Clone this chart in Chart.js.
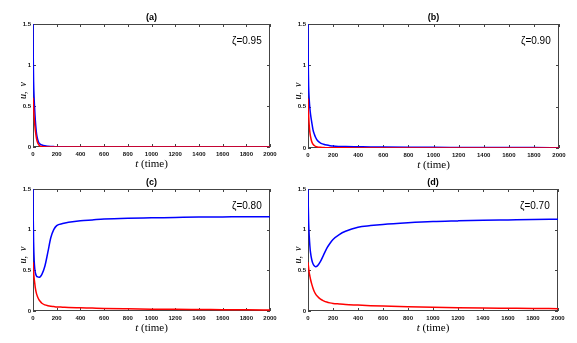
<!DOCTYPE html>
<html>
<head>
<meta charset="utf-8">
<script src="https://cdn.jsdelivr.net/npm/chart.js@4"></script>
<style>
  body { margin: 0; background: #fff; }
  #wrap { position: relative; width: 577px; height: 343px; overflow: hidden; }
  canvas { position: absolute; }
</style>
</head>
<body>
<div id="wrap">
  <canvas id="pa" width="290" height="172" style="left:0;top:0"></canvas>
  <canvas id="pb" width="287" height="172" style="left:290px;top:0"></canvas>
  <canvas id="pc" width="290" height="171" style="left:0;top:172px"></canvas>
  <canvas id="pd" width="287" height="171" style="left:290px;top:172px"></canvas>
</div>
<script>
// time grid shared by all panels
const T = [0, 2, 5, 10, 15, 20, 30, 40, 50, 60, 75, 100, 125, 150, 175, 200, 250, 300, 400, 500, 600, 800, 1000, 1200, 1400, 1600, 1800, 2000];

// (a) zeta = 0.95
const uA = [1.5, 1.1, 0.8, 0.58, 0.44, 0.32, 0.16, 0.09, 0.05, 0.035, 0.025, 0.015, 0.01, 0.007, 0.005, 0.003, 0.002, 0.001, 0, 0, 0, 0, 0, 0, 0, 0, 0, 0];
const vA = [0.6, 0.55, 0.47, 0.36, 0.27, 0.2, 0.1, 0.05, 0.025, 0.012, 0.005, 0.002, 0, 0, 0, 0, 0, 0, 0, 0, 0, 0, 0, 0, 0, 0, 0, 0];

// (b) zeta = 0.90
const uB = [1.5, 1.05, 0.75, 0.58, 0.48, 0.41, 0.31, 0.22, 0.17, 0.13, 0.09, 0.06, 0.045, 0.035, 0.028, 0.023, 0.019, 0.017, 0.015, 0.013, 0.012, 0.01, 0.008, 0.007, 0.006, 0.005, 0.005, 0.004];
const vB = [0.6, 0.5, 0.4, 0.27, 0.19, 0.14, 0.075, 0.045, 0.03, 0.02, 0.013, 0.008, 0.005, 0.004, 0.003, 0.003, 0.002, 0.002, 0.001, 0, 0, 0, 0, 0, 0, 0, 0, 0];

// (c) zeta = 0.80
const uC = [1.5, 1.15, 0.85, 0.62, 0.52, 0.47, 0.43, 0.42, 0.415, 0.42, 0.45, 0.55, 0.72, 0.9, 1.0, 1.05, 1.075, 1.09, 1.11, 1.12, 1.13, 1.14, 1.145, 1.15, 1.155, 1.157, 1.16, 1.16];
const vC = [0.6, 0.55, 0.48, 0.4, 0.34, 0.28, 0.21, 0.17, 0.14, 0.12, 0.095, 0.075, 0.065, 0.058, 0.054, 0.05, 0.047, 0.044, 0.04, 0.036, 0.032, 0.027, 0.023, 0.02, 0.018, 0.016, 0.014, 0.013];

// (d) zeta = 0.70
const uD = [1.5, 1.3, 1.1, 0.92, 0.8, 0.72, 0.63, 0.58, 0.555, 0.545, 0.555, 0.61, 0.69, 0.77, 0.83, 0.88, 0.94, 0.98, 1.03, 1.05, 1.065, 1.085, 1.1, 1.108, 1.115, 1.12, 1.125, 1.128];
const vD = [0.6, 0.57, 0.53, 0.47, 0.43, 0.39, 0.33, 0.28, 0.24, 0.21, 0.18, 0.145, 0.125, 0.11, 0.1, 0.093, 0.086, 0.08, 0.073, 0.066, 0.06, 0.052, 0.046, 0.041, 0.037, 0.034, 0.031, 0.029];

const xTicks = [0, 200, 400, 600, 800, 1000, 1200, 1400, 1600, 1800, 2000];
const yTicks = [0, 0.5, 1, 1.5];

const panels = [
  { id: 'pa', title: '(a)', zeta: '0.95', u: uA, v: vA, box: { left: 0, top: 0, w: 290, h: 172 }, area: { l: 33, r: 270, t: 24, b: 147 } },
  { id: 'pb', title: '(b)', zeta: '0.90', u: uB, v: vB, box: { left: 290, top: 0, w: 287, h: 172 }, area: { l: 308, r: 559, t: 24, b: 148 } },
  { id: 'pc', title: '(c)', zeta: '0.80', u: uC, v: vC, box: { left: 0, top: 172, w: 290, h: 171 }, area: { l: 33, r: 270, t: 189, b: 311 } },
  { id: 'pd', title: '(d)', zeta: '0.70', u: uD, v: vD, box: { left: 290, top: 172, w: 287, h: 171 }, area: { l: 308, r: 558, t: 189, b: 311 } }
];

function framePlugin(p) {
  return {
    id: 'frame',
    beforeDatasetsDraw(chart) {
      const ctx = chart.ctx, a = chart.chartArea;
      const xs = chart.scales.x, ys = chart.scales.y;
      ctx.save();
      ctx.strokeStyle = '#444';
      ctx.lineWidth = 1;
      ctx.strokeRect(a.left + 0.5, a.top + 0.5, a.right - a.left - 1, a.bottom - a.top - 1);
      ctx.beginPath();
      xTicks.forEach(t => {
        const x = Math.round(xs.getPixelForValue(t)) + 0.5;
        ctx.moveTo(x, a.bottom); ctx.lineTo(x, a.bottom - 3);
        ctx.moveTo(x, a.top); ctx.lineTo(x, a.top + 3);
      });
      yTicks.forEach(t => {
        const y = Math.round(ys.getPixelForValue(t)) + 0.5;
        ctx.moveTo(a.left, y); ctx.lineTo(a.left + 3, y);
        ctx.moveTo(a.right, y); ctx.lineTo(a.right - 3, y);
      });
      ctx.stroke();
      ctx.restore();
    },
    afterDraw(chart) {
      const ctx = chart.ctx, a = chart.chartArea;
      const cx = (a.left + a.right) / 2;
      ctx.save();
      ctx.fillStyle = '#000';
      // panel title
      ctx.font = 'bold 9px "Liberation Sans", Arial, sans-serif';
      ctx.textAlign = 'center';
      ctx.textBaseline = 'middle';
      ctx.fillText(p.title, cx, a.top - 6);
      // zeta label
      ctx.font = '10px "Liberation Sans", Arial, sans-serif';
      ctx.textAlign = 'left';
      ctx.fillText('\u03b6=' + p.zeta, a.right - 38, a.top + 17);
      // x title: t (time)
      ctx.textBaseline = 'alphabetic';
      const it = 'italic 11px "Liberation Serif", "DejaVu Serif", serif';
      const rm = '11px "Liberation Serif", "DejaVu Serif", serif';
      ctx.font = it; const w1 = ctx.measureText('t').width;
      ctx.font = rm; const w2 = ctx.measureText(' (time)').width;
      const x0 = cx - (w1 + w2) / 2;
      const yb = a.bottom + 20;
      ctx.font = it; ctx.fillText('t', x0, yb);
      ctx.font = rm; ctx.fillText(' (time)', x0 + w1, yb);
      // y title: u, v
      ctx.translate(a.left - 10, (a.top + a.bottom) / 2 + 5);
      ctx.rotate(-Math.PI / 2);
      ctx.textAlign = 'center';
      ctx.textBaseline = 'middle';
      ctx.font = 'italic 10px "Liberation Serif", "DejaVu Serif", serif';
      ctx.fillText('u,  v', 0, 0);
      ctx.restore();
    }
  };
}

const tickFont = { family: '"Liberation Sans", Arial, sans-serif', size: 6, weight: 'bold' };

panels.forEach(p => {
  const b = p.box, ar = p.area;
  new Chart(document.getElementById(p.id), {
    type: 'line',
    data: {
      labels: T,
      datasets: [
        { label: 'u', data: p.u, borderColor: '#0000ff', borderWidth: 1.5, pointRadius: 0, cubicInterpolationMode: 'monotone', order: 2 },
        { label: 'v', data: p.v, borderColor: '#ff0000', borderWidth: 1.5, pointRadius: 0, cubicInterpolationMode: 'monotone', order: 1 }
      ]
    },
    options: {
      responsive: false,
      animation: false,
      devicePixelRatio: 1,
      layout: { padding: { left: 0, top: ar.t - b.top, right: b.left + b.w - ar.r, bottom: 0 } },
      plugins: { legend: { display: false }, title: { display: false }, tooltip: { enabled: false } },
      scales: {
        x: {
          type: 'linear', min: 0, max: 2000,
          grid: { display: false, drawTicks: false },
          border: { display: false },
          ticks: { stepSize: 200, padding: 4, color: '#111', maxRotation: 0, autoSkip: false,
                   font: tickFont, callback: v => String(v) },
          afterFit: s => { s.height = b.top + b.h - ar.b; }
        },
        y: {
          min: 0, max: 1.5,
          grid: { display: false, drawTicks: false },
          border: { display: false },
          ticks: { stepSize: 0.5, padding: 2, color: '#111', font: tickFont, callback: v => String(v) },
          afterFit: s => { s.width = ar.l - b.left; }
        }
      }
    },
    plugins: [framePlugin(p)]
  });
});
</script>
</body>
</html>
